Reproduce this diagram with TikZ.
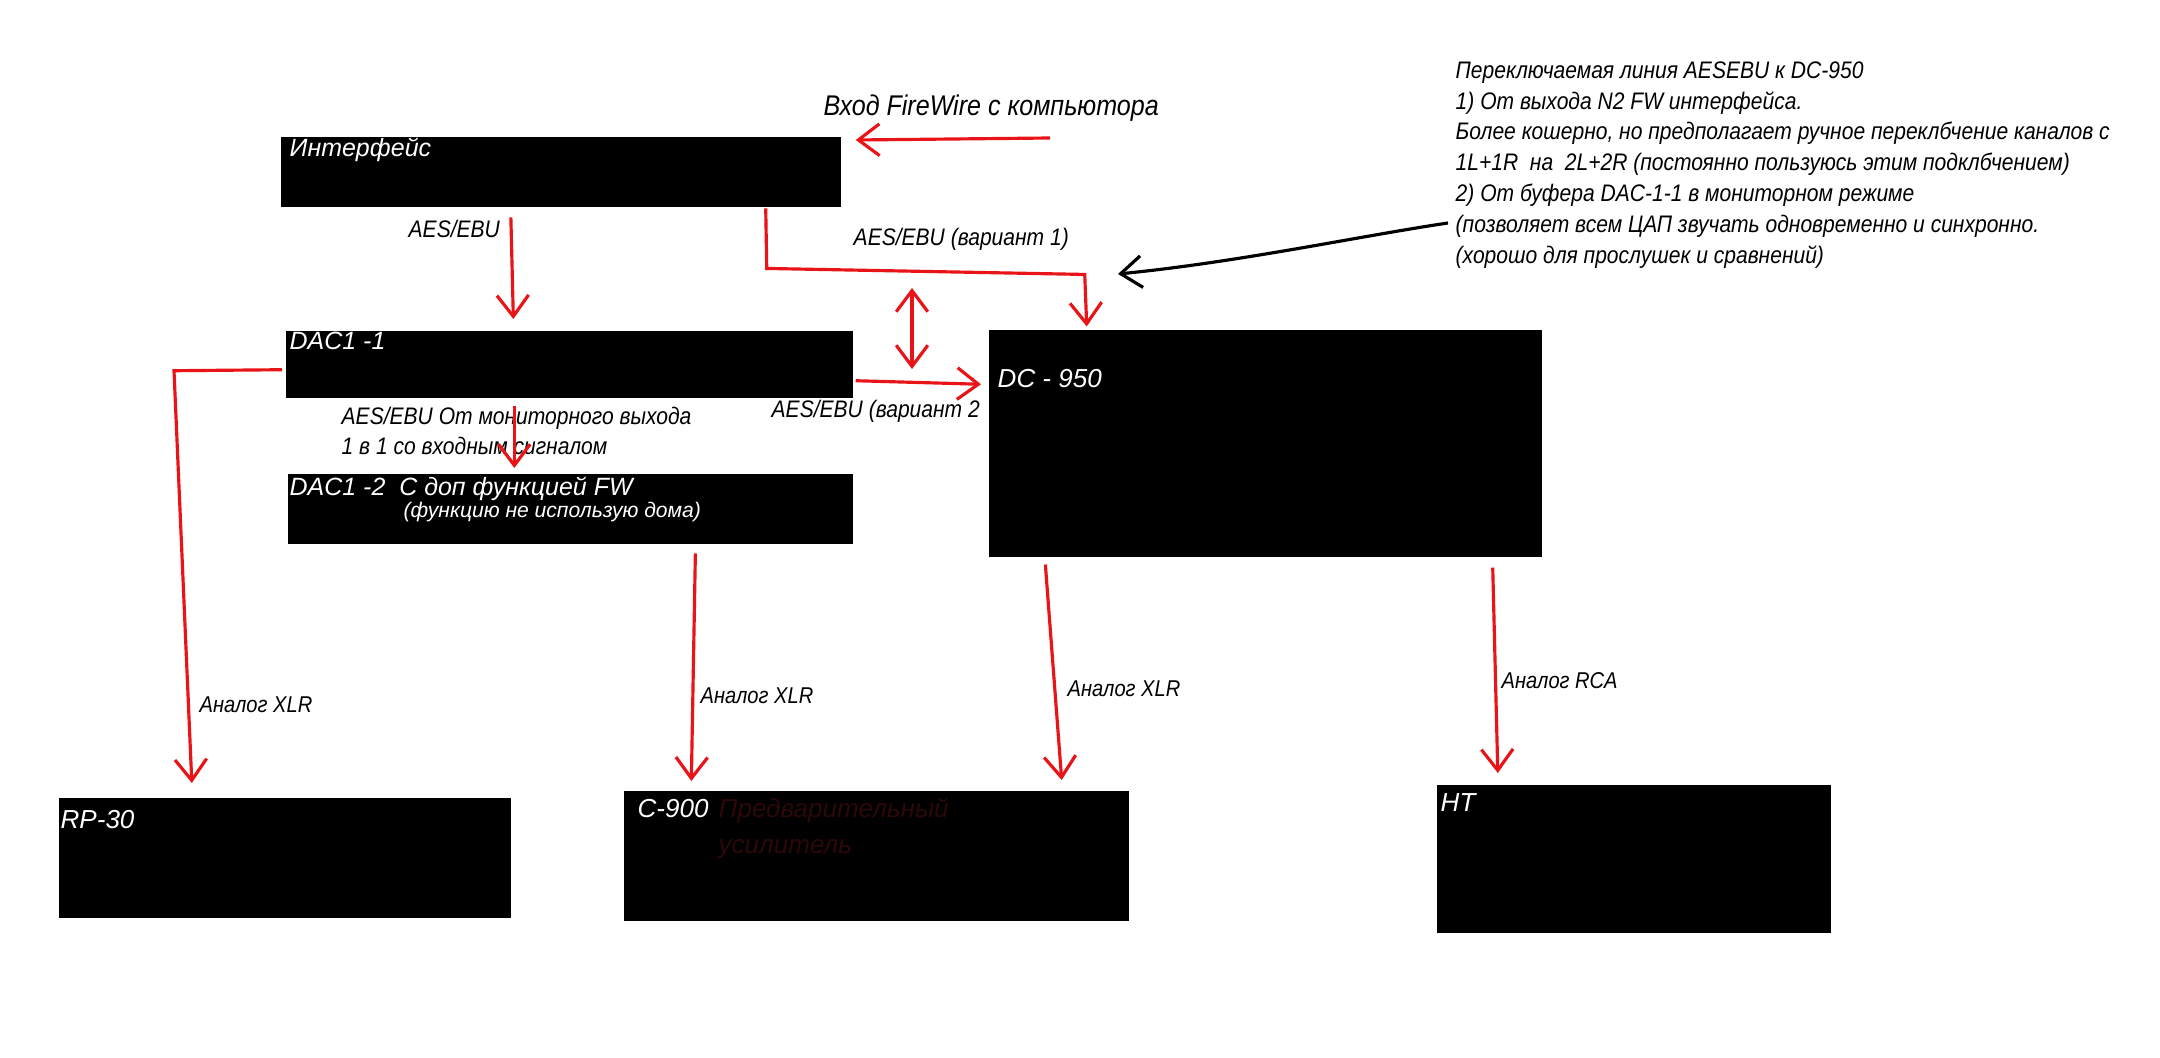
\documentclass[tikz,border=0pt]{standalone}
\usepackage{fontspec}
\setmainfont{Liberation Sans}
\newfontfamily\narrowfont{Liberation Sans}[FakeStretch=0.88]
\usetikzlibrary{arrows.meta}
\definecolor{pen}{RGB}{232,20,24}
\definecolor{dimred}{RGB}{44,8,8}
\tikzset{
  >={Straight Barb[length=6pt,width=9pt]},
  unit/.style={fill=black, draw=black, inner sep=0pt, anchor=north west},
  title/.style={text=white, inner sep=0pt, anchor=base west, font=\itshape\fontsize{7.1}{8}\selectfont},
  model/.style={title, font=\itshape\fontsize{7.4}{8}\selectfont},
  tag/.style={inner sep=0pt, anchor=base west, font=\narrowfont\itshape\fontsize{6.8}{8}\selectfont},
  analog/.style={tag, font=\narrowfont\itshape\fontsize{6.5}{8}\selectfont},
  wire/.style={pen, line width=0.9pt, ->},
}
\begin{document}
\begin{tikzpicture}[x=0.01cm, y=-0.01cm]
  \fill[white] (0,0) rectangle (2160,1058);
  \useasboundingbox (0,0) rectangle (2160,1058);

  \node[unit, minimum width=5.58cm, minimum height=0.69cm] (iface) at (281,137) {};
  \node[unit, minimum width=5.65cm, minimum height=0.66cm] (dacA) at (286,331) {};
  \node[unit, minimum width=5.63cm, minimum height=0.69cm] (dacB) at (288,474) {};
  \node[unit, minimum width=5.51cm, minimum height=2.25cm] (dc) at (989,330) {};
  \node[unit, minimum width=4.50cm, minimum height=1.19cm] (rp) at (59,798) {};
  \node[unit, minimum width=5.03cm, minimum height=1.29cm] (pre) at (624,791) {};
  \node[unit, minimum width=3.92cm, minimum height=1.47cm] (ht) at (1437,785) {};

  \node[title] (ifaceT) at (289,157) {Интерфейс};
  \node[title] (dacAT) at (289,350) {DAC1 -1};
  \node[title] (dacBT) at (289,495) {DAC1 -2\ \ С доп функцией FW};
  \node[title, font=\itshape\fontsize{6}{7}\selectfont] (dacBN) at (403,518) {(функцию не использую дома)};
  \node[model] (dcT) at (997,388) {DC - 950};
  \node[model] (rpT) at (60,828) {RP-30};
  \node[model] (preT) at (637,817) {C-900};
  \node[model, text=dimred, align=left, anchor=north west] (preN) at (718,798) {Предварительный\\[2pt]усилитель};
  \node[model] (htT) at (1440,811) {HT};

  \node[tag, font=\narrowfont\itshape\fontsize{8.1}{9}\selectfont] (fwT) at (823,116) {Вход FireWire с компьютора};
  \node[tag] (aesT) at (408,238) {AES/EBU};
  \node[tag] (var1T) at (853,246) {AES/EBU (вариант 1)};
  \node[tag] (var2T) at (771,418) {AES/EBU (вариант 2};
  \node[tag] (monT) at (341,425) {AES/EBU От мониторного выхода};
  \node[tag] (monT2) at (341,455) {1 в 1 со входным сигналом};
  \node[analog] (xlrA) at (199,712) {Аналог XLR};
  \node[analog] (xlrB) at (700,703) {Аналог XLR};
  \node[analog] (xlrC) at (1067,696) {Аналог XLR};
  \node[analog] (rcaT) at (1501,689) {Аналог RCA};

  \node[tag, anchor=north west, align=left, font=\narrowfont\itshape\fontsize{6.8}{8.75}\selectfont] (note) at (1455,61) {Переключаемая линия AESEBU к DC-950\\
    1) От выхода N2 FW интерфейса.\\
    Более кошерно, но предполагает ручное переклбчение каналов с\\
    1L+1R\ \ на\ \ 2L+2R (постоянно пользуюсь этим подклбчением)\\
    2) От буфера DAC-1-1 в мониторном режиме\\
    (позволяет всем ЦАП звучать одновременно и синхронно.\\
    (хорошо для прослушек и сравнений)};

  \coordinate (fwIn) at (1050,138);
  \coordinate (swTop) at (912,288);
  \coordinate (swBot) at (912,369);
  \coordinate (noteTip) at (1448,223);
  \coordinate (varMark) at (1118,274);

  \draw[wire] (fwIn) -- ([shift={(15,3)}]iface.north east);
  \draw[wire] ([shift={(-50,10)}]iface.south) -- ([shift={(-56,-12)}]dacA.north);
  \draw[wire] ([shift={(-75,1)}]iface.south east) -- ++(1,60) -- ++(318,6) -- ++(2,52);
  \draw[wire, <->] (swTop) -- (swBot);
  \draw[wire] ([shift={(3,16)}]dacA.east) -- ([shift={(-8,-59)}]dc.west);
  \draw[wire] ([shift={(-55,8)}]dacA.south) -- ([shift={(-56,-6)}]dacB.north);
  \draw[wire] ([shift={(-4,5)}]dacA.west) -- ++(-108,1) -- ([shift={(-93,-15)}]rp.north);
  \draw[wire] ([shift={(125,9)}]dacB.south) -- ([shift={(-185,-10)}]pre.north);
  \draw[wire] ([shift={(-220,8)}]dc.south) -- ([shift={(-67,-11)}]pre.north east);
  \draw[wire] ([shift={(-49,11)}]dc.south east) -- ([shift={(-136,-12)}]ht.north);
  \draw[wire, black] (noteTip) .. controls (1360,236) and (1240,262) .. (varMark);
\end{tikzpicture}
\end{document}
